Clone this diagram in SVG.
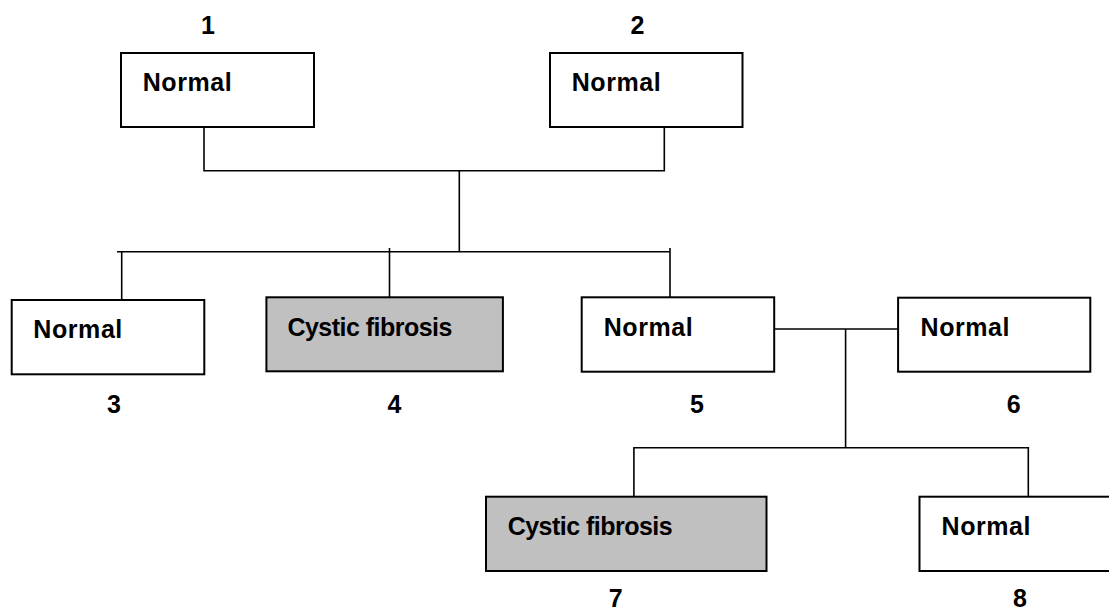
<svg xmlns="http://www.w3.org/2000/svg" width="1109" height="610" viewBox="0 0 1109 610">
<style>
.box{fill:#ffffff;stroke:#000000;stroke-width:2}
.cf{fill:#c0c0c0}
.lbl{font-family:"Liberation Sans",Arial,sans-serif;font-weight:bold;font-size:25px;fill:#000000}
.num{font-family:"Liberation Sans",Arial,sans-serif;font-weight:bold;font-size:25px;fill:#000000;text-anchor:middle}
.ln{fill:none;stroke:#000000;stroke-width:1.6}
</style>
<rect width="1109" height="610" fill="#ffffff"/>
<g id="connectors">
<polyline class="ln" points="204,127 204,170.7 664.3,170.7 664.3,127"/>
<line class="ln" x1="459.3" y1="170.7" x2="459.3" y2="251.7"/>
<line class="ln" x1="117" y1="251.7" x2="670" y2="251.7"/>
<line class="ln" x1="121.7" y1="251" x2="121.7" y2="300"/>
<line class="ln" x1="389.5" y1="248" x2="389.5" y2="297.3"/>
<line class="ln" x1="670" y1="248" x2="670" y2="297.3"/>
<line class="ln" x1="774" y1="329" x2="898" y2="329"/>
<line class="ln" x1="845.6" y1="329" x2="845.6" y2="447.7"/>
<polyline class="ln" points="633.9,496.7 633.9,447.7 1028.3,447.7 1028.3,496.7"/>
</g>
<g id="node1">
<rect class="box" x="121" y="53" width="193" height="74"/>
<text class="lbl" x="142.7" y="90.7" textLength="89" >Normal</text>
<text class="num" x="208" y="34.3">1</text>
</g>
<g id="node2">
<rect class="box" x="550" y="53" width="192.5" height="74"/>
<text class="lbl" x="571.7" y="90.7" textLength="89">Normal</text>
<text class="num" x="637.5" y="34.3">2</text>
</g>
<g id="node3">
<rect class="box" x="11.7" y="300" width="192.6" height="74.3"/>
<text class="lbl" x="33.3" y="338" textLength="89">Normal</text>
<text class="num" x="114" y="412.7">3</text>
</g>
<g id="node4">
<rect class="box cf" x="266.4" y="297.3" width="236.5" height="74"/>
<text class="lbl" x="287.4" y="336" textLength="165">Cystic fibrosis</text>
<text class="num" x="394.5" y="412.5">4</text>
</g>
<g id="node5">
<rect class="box" x="581.7" y="297.3" width="192.5" height="74.4"/>
<text class="lbl" x="603.7" y="336" textLength="89">Normal</text>
<text class="num" x="697" y="412.7">5</text>
</g>
<g id="node6">
<rect class="box" x="898.1" y="297.7" width="192.2" height="74"/>
<text class="lbl" x="920.5" y="336" textLength="89">Normal</text>
<text class="num" x="1013.6" y="412.7">6</text>
</g>
<g id="node7">
<rect class="box cf" x="486" y="496.7" width="280.5" height="74.3"/>
<text class="lbl" x="507.7" y="535" textLength="165">Cystic fibrosis</text>
<text class="num" x="615.6" y="607">7</text>
</g>
<g id="node8">
<rect class="box" x="919.5" y="496.7" width="200" height="74.3"/>
<text class="lbl" x="941.5" y="535.3" textLength="89">Normal</text>
<text class="num" x="1020" y="607">8</text>
</g>
</svg>
